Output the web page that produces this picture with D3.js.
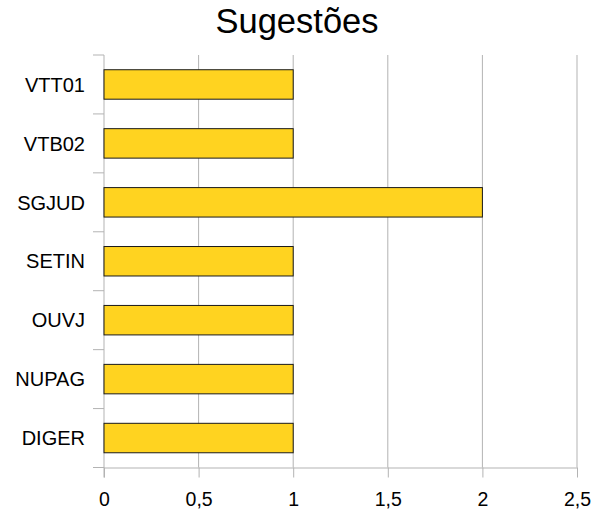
<!DOCTYPE html>
<html>
<head>
<meta charset="utf-8">
<script src="https://cdn.jsdelivr.net/npm/d3@7"></script>
<style>
  body { margin: 0; background: #fff; }
  text { font-family: "Liberation Sans", Arial, sans-serif; }
</style>
</head>
<body>
<div id="chart"></div>
<script>
// data
const categories = ["VTT01", "VTB02", "SGJUD", "SETIN", "OUVJ", "NUPAG", "DIGER"];
const values = [1, 1, 2, 1, 1, 1, 1];
const xTicks = [0, 0.5, 1, 1.5, 2, 2.5];

const width = 594, height = 513;
const margin = {top: 55, right: 17, bottom: 45.5, left: 104};
const w = width - margin.left - margin.right,
    h = height - margin.top - margin.bottom;

const svg = d3.select("#chart").append("svg")
    .attr("width", width)
    .attr("height", height);

// title
svg.append("text")
    .attr("x", width / 2)
    .attr("y", 33)
    .attr("text-anchor", "middle")
    .style("font-size", "34.5px")
    .text("Sugestões");

const g = svg.append("g")
    .attr("transform", "translate(" + margin.left + "," + margin.top + ")");

const x = d3.scaleLinear().domain([0, 2.5]).range([0, w]);
const y = d3.scaleBand().domain(categories).range([0, h])
    .paddingInner(0.5).paddingOuter(0.25);
const step = y.step();

// vertical gridlines
g.selectAll(".grid")
    .data(xTicks.slice(1))
    .join("line")
    .attr("x1", d => x(d)).attr("x2", d => x(d))
    .attr("y1", 0).attr("y2", h)
    .attr("stroke", "#b3b3b3")
    .attr("stroke-width", 1);

// x axis
const fmt = d => String(d).replace(".", ",");
const xAxis = g.append("g")
    .attr("transform", "translate(0," + h + ")")
    .call(d3.axisBottom(x).tickValues(xTicks).tickFormat(fmt).tickSizeInner(10).tickSizeOuter(0).tickPadding(15));
xAxis.select(".domain").attr("stroke", "#b3b3b3");
xAxis.selectAll(".tick line").attr("stroke", "#b3b3b3");
xAxis.selectAll("text").style("font-size", "19.5px").attr("fill", "#000");

// y axis: ticks at band boundaries
g.append("line")
    .attr("x1", 0).attr("x2", 0).attr("y1", 0).attr("y2", h + 10)
    .attr("stroke", "#b3b3b3");
g.selectAll(".ytick")
    .data(d3.range(categories.length + 1))
    .join("line")
    .attr("x1", -11).attr("x2", 0)
    .attr("y1", i => i * step).attr("y2", i => i * step)
    .attr("stroke", "#b3b3b3");
g.selectAll(".ylabel")
    .data(categories)
    .join("text")
    .attr("x", -19)
    .attr("y", d => y(d) + y.bandwidth() / 2)
    .attr("dy", "0.36em")
    .attr("text-anchor", "end")
    .style("font-size", "20px")
    .text(d => d);

// bars
g.selectAll(".bar")
    .data(categories)
    .join("rect")
    .attr("x", x(0))
    .attr("y", d => y(d))
    .attr("width", (d, i) => x(values[i]) - x(0))
    .attr("height", y.bandwidth())
    .attr("fill", "#ffd320")
    .attr("stroke", "#1a1a1a")
    .attr("stroke-width", 1);
</script>
</body>
</html>
